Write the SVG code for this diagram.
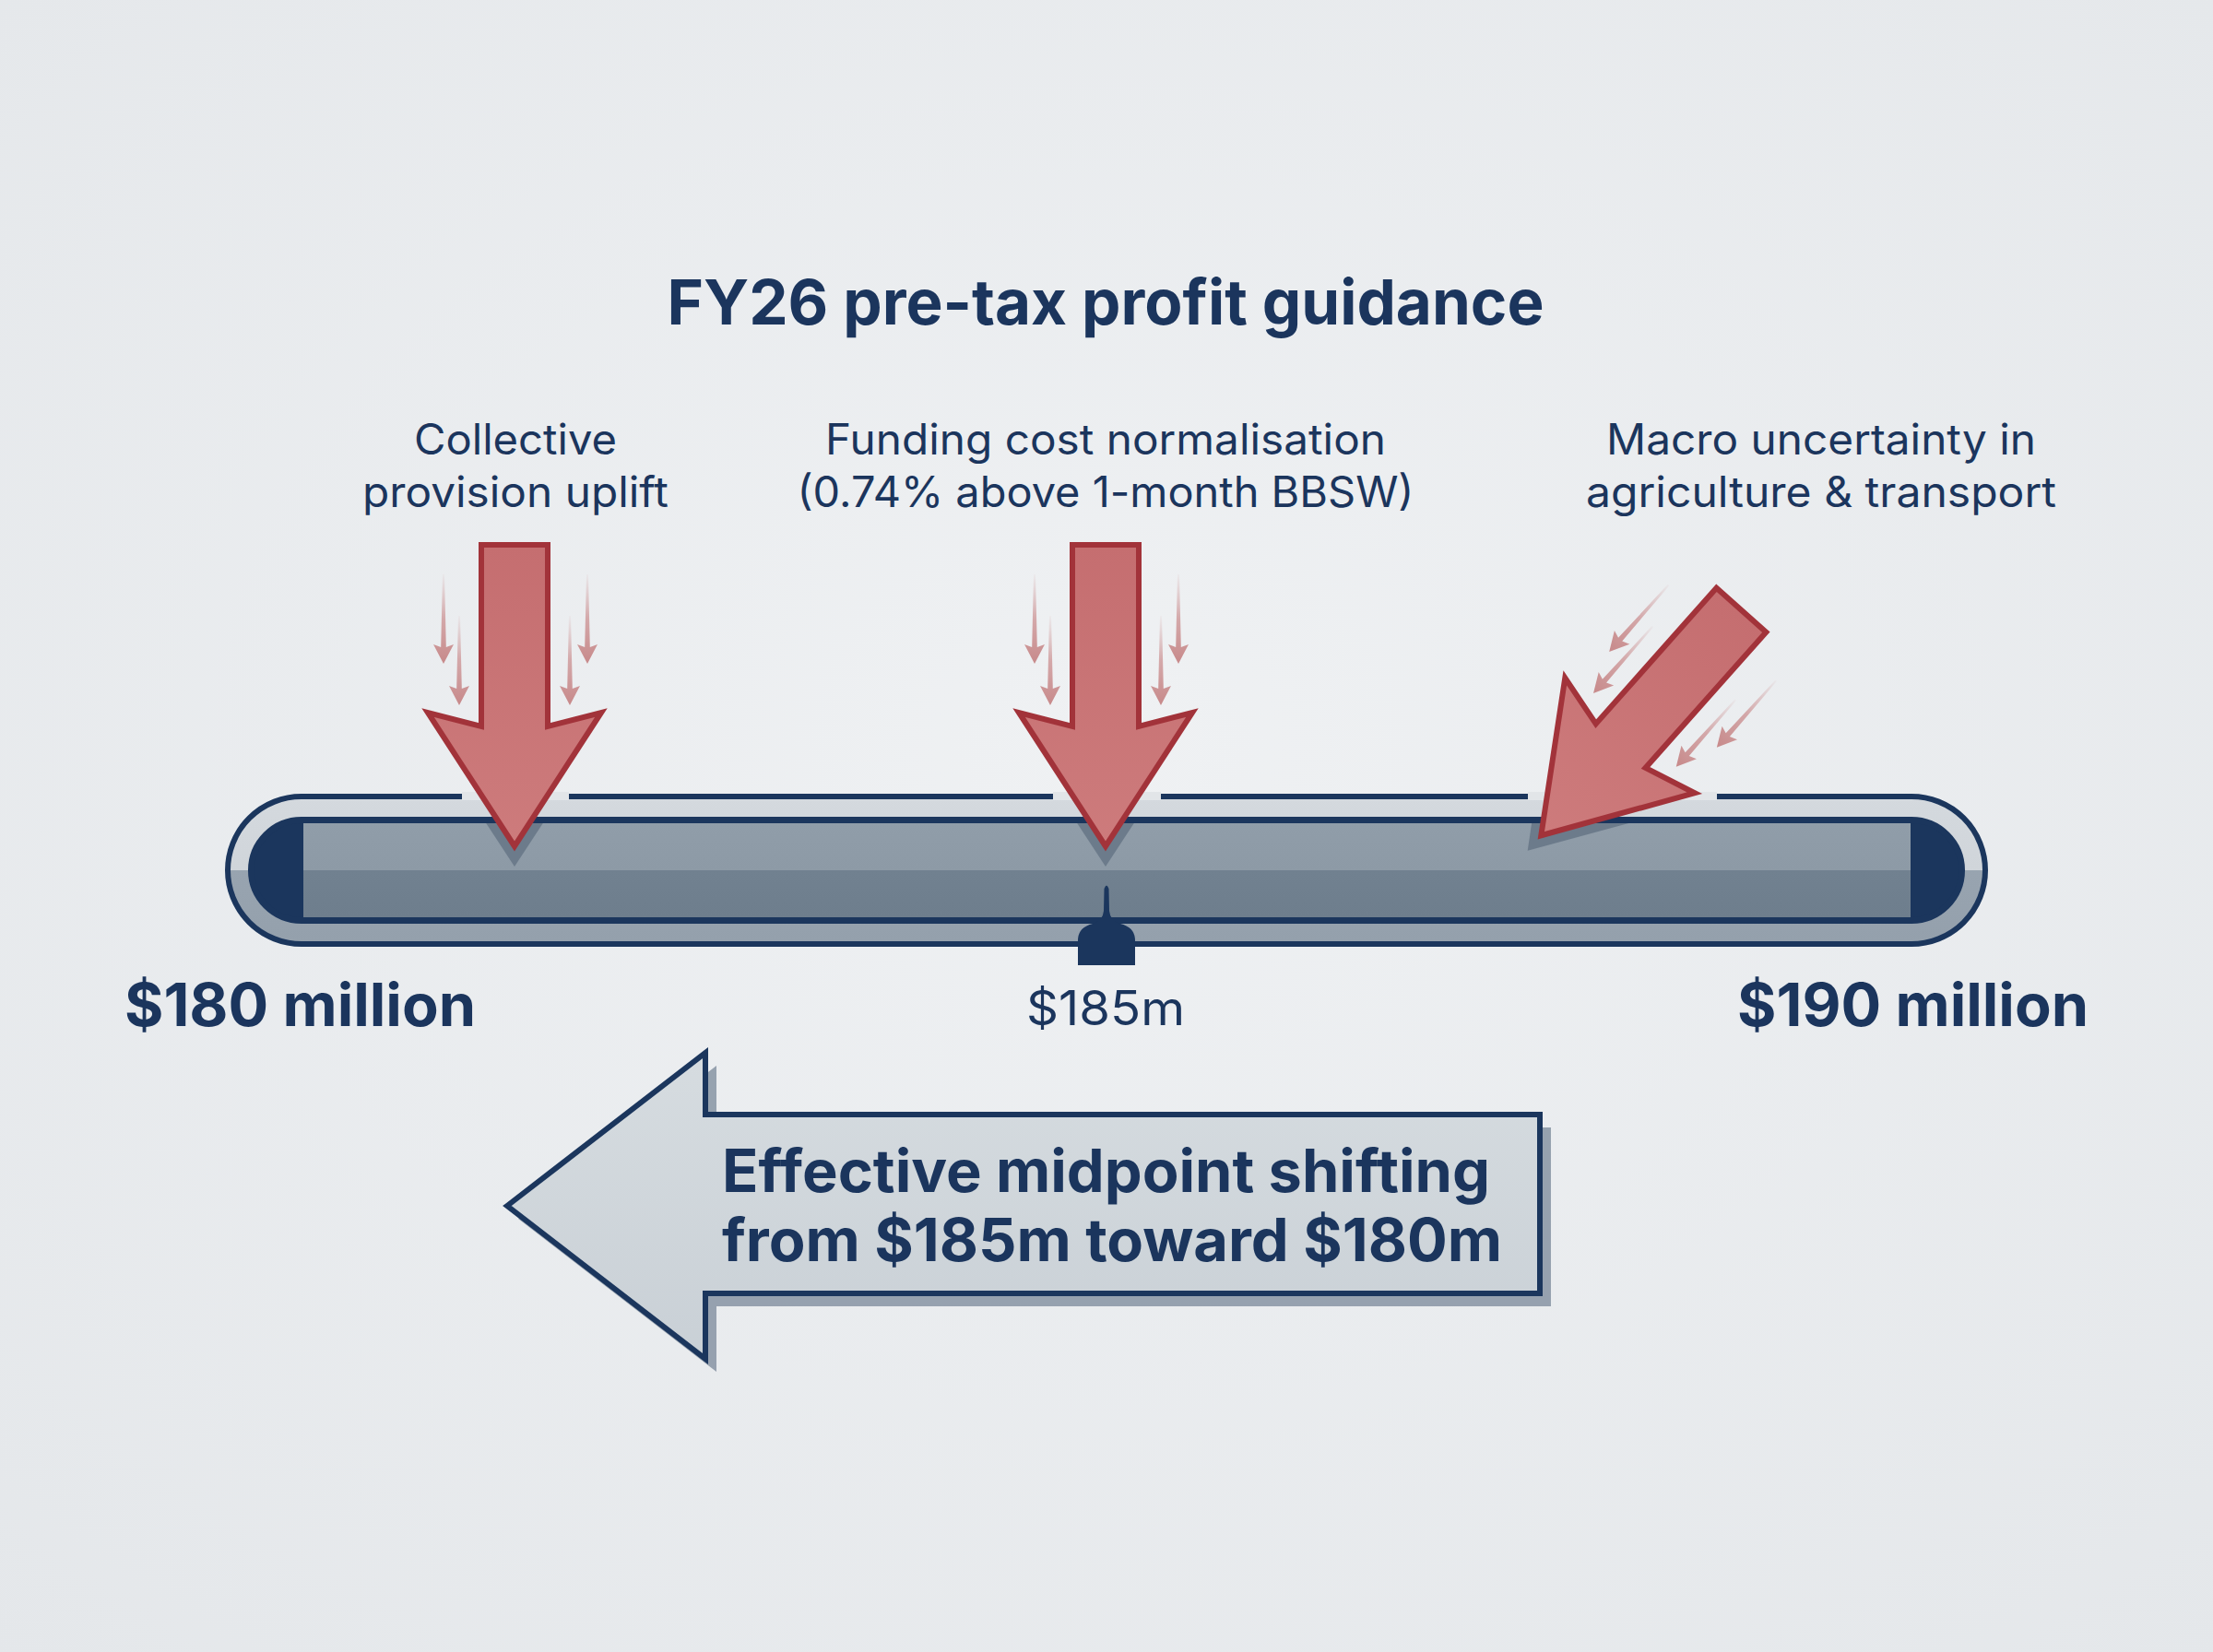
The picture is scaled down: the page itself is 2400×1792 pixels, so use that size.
<svg xmlns="http://www.w3.org/2000/svg" width="2400" height="1792" viewBox="0 0 2400 1792">
<style>
.t{font-family:Inter,"Liberation Sans",sans-serif;fill:#1b355d}
.lbl{font-size:46px;font-weight:400;text-anchor:middle}
.big{font-size:64px;font-weight:700}
.main{fill:url(#redFill);stroke:#a2333a;stroke-width:6;stroke-linejoin:miter}
.mini{fill:url(#miniGrad)}
.nav{fill:#1b365d}
</style>
<defs>
<radialGradient id="bg" cx="0.5" cy="0.45" r="0.75">
<stop offset="0" stop-color="#eff1f3"/>
<stop offset="1" stop-color="#e4e7ea"/>
</radialGradient>
<linearGradient id="ring" x1="0" y1="0" x2="0" y2="1">
<stop offset="0" stop-color="#d4d9de"/><stop offset="0.5" stop-color="#d0d5da"/>
<stop offset="0.5" stop-color="#98a4b0"/><stop offset="1" stop-color="#94a0ac"/>
</linearGradient>
<linearGradient id="barFill" x1="0" y1="0" x2="0" y2="1">
<stop offset="0" stop-color="#909da9"/><stop offset="0.5" stop-color="#8d9aa6"/>
<stop offset="0.5" stop-color="#718190"/><stop offset="1" stop-color="#6e7e8d"/>
</linearGradient>
<linearGradient id="redFill" x1="0" y1="0" x2="0" y2="1">
<stop offset="0" stop-color="#c56e70"/><stop offset="1" stop-color="#cd7b7c"/>
</linearGradient>
<linearGradient id="miniGrad" x1="0" y1="0" x2="0" y2="1">
<stop offset="0" stop-color="#c98a8b" stop-opacity="0.05"/>
<stop offset="0.5" stop-color="#c98a8b" stop-opacity="0.7"/>
<stop offset="1" stop-color="#c7898a" stop-opacity="1"/>
</linearGradient>
<linearGradient id="boxFill" x1="0" y1="0" x2="0" y2="1">
<stop offset="0" stop-color="#d6dce0"/><stop offset="1" stop-color="#c9d0d6"/>
</linearGradient>
<clipPath id="barClip"><rect x="276" y="893" width="1851" height="102"/></clipPath>
<path id="mini" class="mini" d="M0,0 L-11,-21 L-2.8,-18 L-1,-97 L1,-97 L2.8,-18 L11,-21 Z"/>
<g id="arrowSet">
<use href="#mini" transform="translate(-77,-203)"/>
<use href="#mini" transform="translate(-60,-158)"/>
<use href="#mini" transform="translate(60,-158)"/>
<use href="#mini" transform="translate(79,-203)"/>
<path class="main" d="M0,-5 L-94,-150 L-36,-135 L-36,-332 L36,-332 L36,-135 L94,-150 Z"/>
</g>
<path id="headShadow" d="M0,17 L-97,-131 L97,-131 Z" fill="#667686" fill-opacity="0.85"/>
</defs>

<rect width="2400" height="1792" fill="url(#bg)"/>

<g id="title">
<text class="t" x="1199" y="352" font-size="68" font-weight="700" text-anchor="middle" textLength="951" lengthAdjust="spacingAndGlyphs">FY26 pre-tax profit guidance</text>
</g>

<g id="guidance-bar">
<rect x="247" y="864" width="1906" height="160" rx="80" fill="url(#ring)" stroke="#1b365d" stroke-width="6"/>
<rect x="272.5" y="889.5" width="1855" height="109" rx="54.5" fill="#1b365d" stroke="#1b365d" stroke-width="7"/>
<rect x="329" y="893" width="1743" height="102" fill="url(#barFill)"/>
<rect x="501" y="859" width="116" height="9" fill="#e2e5e8"/>
<rect x="1142" y="859" width="117" height="9" fill="#e2e5e8"/>
<rect x="1657" y="859" width="205" height="9" fill="#e2e5e8"/>
</g>

<g id="midpoint-marker">
<path class="nav" d="M1197.5,964 Q1200,957 1202.5,964 L1203,988 Q1204,999 1215,1002 Q1231,1006 1231,1020 L1231,1047 L1169,1047 L1169,1020 Q1169,1006 1185,1002 Q1196,999 1197,988 Z"/>
</g>

<g id="shadows" clip-path="url(#barClip)">
<use href="#headShadow" transform="translate(558,923)"/>
<use href="#headShadow" transform="translate(1199,923)"/>
<use href="#headShadow" transform="translate(1668,910) rotate(41.6)"/>
</g>

<g id="collective-provision">
<use href="#arrowSet" transform="translate(558,923)"/>
<text class="t lbl" x="559" y="493" textLength="220" lengthAdjust="spacingAndGlyphs">Collective</text>
<text class="t lbl" x="559" y="550" textLength="332" lengthAdjust="spacingAndGlyphs">provision uplift</text>
</g>

<g id="funding-cost">
<use href="#arrowSet" transform="translate(1199,923)"/>
<text class="t lbl" x="1199" y="493" textLength="608" lengthAdjust="spacingAndGlyphs">Funding cost normalisation</text>
<text class="t lbl" x="1199" y="550" textLength="669" lengthAdjust="spacingAndGlyphs">(0.74% above 1-month BBSW)</text>
</g>

<g id="macro-uncertainty">
<use href="#arrowSet" transform="translate(1668,910) rotate(41.6)"/>
<text class="t lbl" x="1975" y="493" textLength="466" lengthAdjust="spacingAndGlyphs">Macro uncertainty in</text>
<text class="t lbl" x="1975" y="550" textLength="510" lengthAdjust="spacingAndGlyphs">agriculture &amp; transport</text>
</g>

<g id="range-labels">
<text class="t big" x="135" y="1113" textLength="381" lengthAdjust="spacingAndGlyphs">$180 million</text>
<text class="t" x="1199" y="1112" font-size="52" text-anchor="middle" textLength="172" lengthAdjust="spacingAndGlyphs">$185m</text>
<text class="t big" x="1884" y="1113" textLength="381" lengthAdjust="spacingAndGlyphs">$190 million</text>
</g>

<g id="midpoint-shift">
<polygon points="562,1322 777,1156 777,1223 1682,1223 1682,1417 777,1417 777,1488" fill="#8d99a7" fill-opacity="0.9"/>
<polygon points="550,1308 765,1142 765,1209 1670,1209 1670,1403 765,1403 765,1474" fill="url(#boxFill)" stroke="#1b365d" stroke-width="6" stroke-linejoin="miter"/>
<text class="t" x="783" y="1293" font-size="64" font-weight="700" textLength="833" lengthAdjust="spacingAndGlyphs">Effective midpoint shifting</text>
<text class="t" x="783" y="1368" font-size="64" font-weight="700" textLength="846" lengthAdjust="spacingAndGlyphs">from $185m toward $180m</text>
</g>
</svg>
